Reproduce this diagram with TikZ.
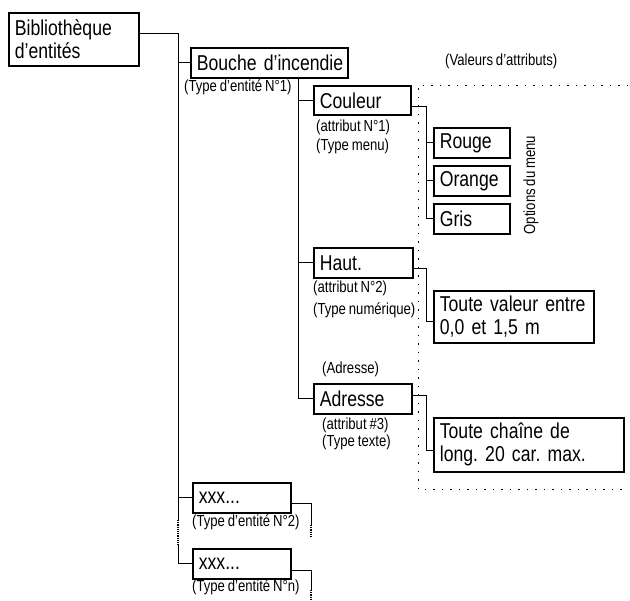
\documentclass[tikz,border=0pt]{standalone}
\usepackage{fontspec}
\setmainfont{Liberation Sans}[FakeStretch=0.82, WordSpace=0.8]
\usetikzlibrary{positioning}
\frenchspacing

\tikzset{
  ebox/.style={draw, line width=1.7pt, anchor=north west, inner xsep=6pt, inner ysep=0pt,
    align=left, font=\fontsize{21.5}{23}\selectfont},
  note/.style={anchor=west, inner sep=0pt, font=\fontsize{16}{19}\selectfont},
  link/.style={line width=0.8pt},
  linkdot/.style={line width=1.2pt, densely dotted},
  frame/.style={line width=1pt, dash pattern=on 1.5pt off 7pt},
}

\begin{document}
\begin{tikzpicture}[x=1pt,y=-1pt]
    \useasboundingbox (0,0) rectangle (630,601);
    % boxes
    \node[ebox, text width=118pt, minimum height=53pt] (lib) at (8,12) {Bibliothèque\\d’entités};
    \node[ebox, text width=145pt, minimum height=30pt] (bouche) at (190,47) {Bouche~d’incendie};
    \node[ebox, text width=85pt, minimum height=29pt] (couleur) at (313,85) {Couleur};
    \node[ebox, text width=64pt, minimum height=30pt] (rouge) at (433,127) {Rouge};
    \node[ebox, text width=64pt, minimum height=30pt] (orange) at (433,165) {Orange};
    \node[ebox, text width=64pt, minimum height=30pt] (gris) at (433,203) {Gris};
    \node[ebox, text width=87pt, minimum height=30pt] (haut) at (313,247) {Haut.};
    \node[ebox, text width=148pt, minimum height=52pt] (valeur) at (433,290) {Toute valeur entre\\0,0 et 1,5 m};
    \node[ebox, text width=86pt, minimum height=30pt] (adresse) at (313,383) {Adresse};
    \node[ebox, text width=178pt, minimum height=54pt] (chaine) at (433,417) {Toute chaîne de\\long. 20 car. max.};
    \node[ebox, text width=86pt, minimum height=30pt] (xxx2) at (192,482) {xxx...};
    \node[ebox, text width=86pt, minimum height=30pt] (xxxn) at (192,548) {xxx...};
    % notes
    \node[note] (type1) at (184,87) {(Type d’entité N°1)};
    \node[note] (attr1) at (316,127) {(attribut N°1)};
    \node[note] (menu) at (316,146) {(Type menu)};
    \node[note] (attr2) at (313,288) {(attribut N°2)};
    \node[note] (num) at (313,310) {(Type numérique)};
    \node[note] (adr) at (322,369) {(Adresse)};
    \node[note] (attr3) at (322,425) {(attribut \#3)};
    \node[note] (texte) at (322,442) {(Type texte)};
    \node[note] (type2) at (192,522) {(Type d’entité N°2)};
    \node[note] (typen) at (192,587) {(Type d’entité N°n)};
    \node[note] (valeurs) at (445,61) {(Valeurs d’attributs)};
    \node[note, anchor=center, rotate=90] (options) at (531,185) {Options du menu};
    % branch points
    \coordinate (t0) at (178,33);
    \coordinate (t1) at (178,520);
    \coordinate (t2) at (178,545);
    \coordinate (b0) at (298,77);
    \coordinate (c0) at (426,106);
    \coordinate (h0) at (426,268);
    \coordinate (a0) at (426,395);
    \coordinate (x2) at (311,503);
    \coordinate (x2e) at (311,525);
    \coordinate (xn) at (311,570);
    \coordinate (xne) at (311,590);
    % connectors
    \draw[link] (lib.east |- t0) -- (t0) |- (bouche.west);
    \draw[link] (t0) -- (t1);
    \draw[link] (t0) |- (xxx2.west);
    \draw[linkdot] (t1) -- (t2);
    \draw[link] (t2) |- (xxxn.west);
    \draw[link] (b0) |- (couleur.west);
    \draw[link] (b0) |- (haut.west);
    \draw[link] (b0) |- (adresse.west);
    \draw[link] (couleur.east |- c0) -- (c0) |- (gris.west);
    \draw[link] (c0) |- (rouge.west);
    \draw[link] (c0) |- (orange.west);
    \draw[link] (haut.east |- h0) -- (h0) |- ([yshift=-5pt]valeur.west);
    \draw[link] (adresse.east |- a0) -- (a0) |- ([yshift=-6pt]chaine.west);
    \draw[link] (xxx2.east |- x2) -- (x2) -- (x2e);
    \draw[linkdot] (x2e) -- ++(0,12);
    \draw[link] (xxxn.east |- xn) -- (xn) -- (xne);
    \draw[linkdot] (xne) -- ++(0,11);
    % frame of attribute values
    \draw[frame] (628,86) -| (418,490) -- (628,490);
\end{tikzpicture}
\end{document}
